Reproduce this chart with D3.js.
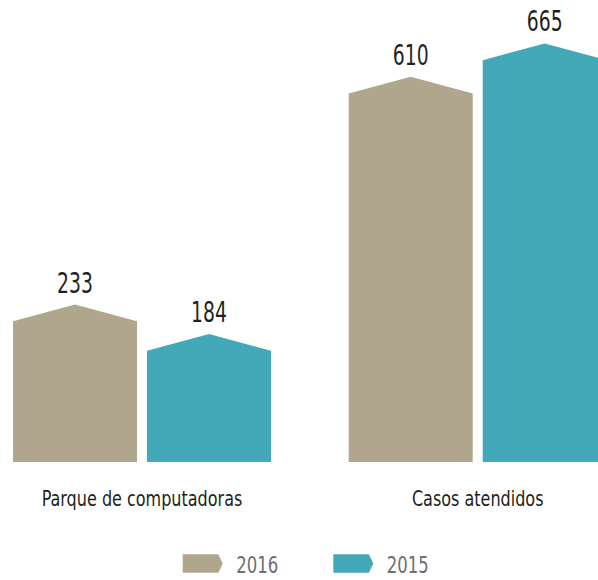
<!DOCTYPE html>
<html>
<head>
<meta charset="utf-8">
<script src="https://cdn.jsdelivr.net/npm/d3@7"></script>
<style>
  html, body { margin: 0; padding: 0; background: #fff; }
  svg { display: block; }
  text { font-family: "DejaVu Sans Condensed", "Liberation Sans Narrow", sans-serif; }
</style>
</head>
<body>
<svg id="chart" width="598" height="580"></svg>
<script>
// Data
const categories = ["Parque de computadoras", "Casos atendidos"];
const years = ["2016", "2015"];
const values2016 = [233, 610];
const values2015 = [184, 665];
const colors = ["#b0a68e", "#43a9b9"];

const baseY = 462;
const roofH = 16.7; // height of the pointed cap above the bar shoulder

const svg = d3.select("#chart");

const x0 = d3.scaleBand()
  .domain(categories)
  .range([13, 606.7])
  .paddingInner(0.2315)
  .paddingOuter(0);

const x1 = d3.scaleBand()
  .domain(years)
  .range([0, x0.bandwidth()])
  .paddingInner(0.0746)
  .paddingOuter(0);

const y = d3.scaleLinear()
  .domain([0, 700])
  .range([baseY, 39]);

const color = d3.scaleOrdinal().domain(years).range(colors);

const rows = categories.map((c, i) => ({
  category: c,
  bars: [
    { year: "2016", value: values2016[i] },
    { year: "2015", value: values2015[i] }
  ]
}));

// Bar with a gabled top: shoulders at the value, apex centred above
function housePath(x, w, yTop, yBase) {
  const p = d3.path();
  p.moveTo(x, yBase);
  p.lineTo(x, yTop);
  p.lineTo(x + w / 2, yTop - roofH);
  p.lineTo(x + w, yTop);
  p.lineTo(x + w, yBase);
  p.closePath();
  return p.toString();
}

// Condensed lettering: squeeze horizontally around the anchor point
const squeeze = (x, y, s) => `translate(${x},${y}) scale(${s},1)`;

const groups = svg.selectAll("g.group")
  .data(rows)
  .join("g")
  .attr("class", "group")
  .attr("transform", d => `translate(${x0(d.category)},0)`);

groups.selectAll("path.bar")
  .data(d => d.bars)
  .join("path")
  .attr("class", "bar")
  .attr("fill", d => color(d.year))
  .attr("d", d => housePath(x1(d.year), x1.bandwidth(), y(d.value), y(0)));

groups.selectAll("text.value")
  .data(d => d.bars)
  .join("text")
  .attr("class", "value")
  .attr("transform", d => squeeze(x1(d.year) + x1.bandwidth() / 2, y(d.value) - roofH - 12, 0.76))
  .attr("text-anchor", "middle")
  .attr("font-size", 27.5)
  .attr("fill", "#231f20")
  .text(d => d.value);

groups.append("text")
  .attr("class", "category")
  .attr("transform", squeeze(x0.bandwidth() / 2, 506, 0.81))
  .attr("text-anchor", "middle")
  .attr("font-size", 22)
  .attr("fill", "#231f20")
  .text(d => d.category);

// Legend with arrow-tipped swatches
const legendX = [182.7, 333.3];
const legend = svg.selectAll("g.legend")
  .data(years)
  .join("g")
  .attr("class", "legend")
  .attr("transform", (d, i) => `translate(${legendX[i]},554.3)`);

legend.append("path")
  .attr("fill", d => color(d))
  .attr("d", "M0,0 H35.6 L40,9.2 L35.6,18.4 H0 Z");

legend.append("text")
  .attr("transform", squeeze(53.5, 19, 0.78))
  .attr("font-size", 23.5)
  .attr("fill", "#6d6e71")
  .text(d => d);
</script>
</body>
</html>
